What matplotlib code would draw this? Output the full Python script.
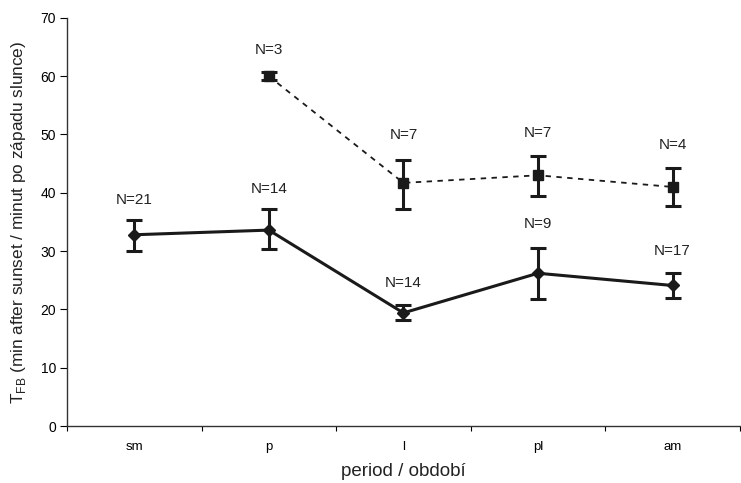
import numpy as np
import matplotlib.pyplot as plt

plt.rcParams['font.family'] = ['Liberation Sans', 'DejaVu Sans']
plt.rcParams['mathtext.fontset'] = 'custom'
plt.rcParams['mathtext.rm'] = 'Liberation Sans'

# data
periods = ['sm', 'p', 'l', 'pl', 'am']
solid_mean = [32.8, 33.6, 19.4, 26.2, 24.1]
solid_low = [30.0, 30.3, 18.2, 21.8, 22.0]
solid_high = [35.3, 37.2, 20.7, 30.6, 26.2]
solid_n = [21, 14, 14, 9, 17]

dash_mean = [np.nan, 60.0, 41.7, 43.0, 41.0]
dash_low = [np.nan, 59.3, 37.2, 39.5, 37.7]
dash_high = [np.nan, 60.8, 45.7, 46.3, 44.2]
dash_n = [None, 3, 7, 7, 4]

# label heights (layout)
solid_lab_y = [38.8, 40.6, 24.5, 34.6, 30.0]
dash_lab_y = [None, 64.5, 49.9, 50.3, 48.2]

x = np.arange(len(periods))

fig = plt.figure(figsize=(7.41, 4.83), dpi=100)
ax = fig.add_axes([0.0904, 0.118, 0.908, 0.845])

sm = np.array(solid_mean)
ax.errorbar(x, sm, yerr=[sm - np.array(solid_low), np.array(solid_high) - sm],
            color='#1a1a1a', lw=2.2, marker='D', ms=6.5, elinewidth=2.2,
            capsize=6, capthick=2.2, zorder=3)

dm = np.array(dash_mean)
ax.errorbar(x, dm, yerr=[dm - np.array(dash_low), np.array(dash_high) - dm],
            color='#1a1a1a', lw=1.3, ls=(0, (3, 3)), marker='s', ms=7,
            elinewidth=2.2, capsize=6, capthick=2.2, zorder=3)

for i in range(len(periods)):
    ax.text(x[i], solid_lab_y[i], 'N=%d' % solid_n[i], ha='center', va='center',
            fontsize=11, color='#222222')
    if dash_n[i] is not None:
        ax.text(x[i], dash_lab_y[i], 'N=%d' % dash_n[i], ha='center', va='center',
                fontsize=11, color='#222222')

ax.set_xlim(-0.5, len(periods) - 0.5)
ax.set_ylim(0, 70)
ax.set_yticks(range(0, 71, 10))
ax.set_xticks(np.arange(len(periods) + 1) - 0.5)
ax.set_xticklabels([])
ax.set_xticks(x, minor=True)
ax.set_xticklabels(periods, minor=True)
ax.tick_params(axis='x', which='minor', length=0, pad=11, labelsize=9.5)
ax.tick_params(axis='x', which='major', length=3.5, direction='out')
ax.tick_params(axis='y', length=5, direction='out', labelsize=10, pad=3)

for s in ['top', 'right']:
    ax.spines[s].set_visible(False)
for s in ['left', 'bottom']:
    ax.spines[s].set_color('#333333')
    ax.spines[s].set_linewidth(1.0)

ax.set_ylabel(r'T$_{\rm FB}$ (min after sunset / minut po západu slunce)', fontsize=12.4,
              color='#222222', labelpad=9)
ax.set_xlabel('period / období', fontsize=13.5, color='#222222', labelpad=7)

plt.savefig('out.png', dpi=100)
